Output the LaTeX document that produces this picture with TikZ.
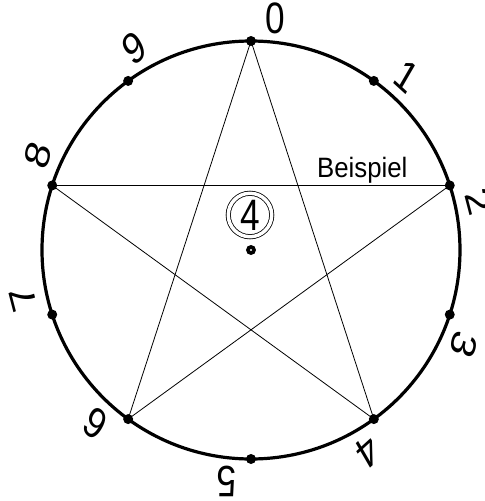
\documentclass[tikz,border=0pt]{standalone}
\usepackage{fontspec}
\setmainfont{Liberation Sans}
\usetikzlibrary{positioning}

\newcommand{\digfont}{\fontsize{33}{33}\selectfont}

\begin{document}
\begin{tikzpicture}[x=0.75pt, y=0.75pt,
    pt/.style={circle, fill, inner sep=0pt, minimum size=7.5pt},
    lab/.style={inner sep=0pt, xscale=0.8, font=\digfont},
    chord/.style={line width=0.6pt}]
  \useasboundingbox (-251,-251) rectangle (234,250);
  % outer circle
  \draw[line width=2.4pt] (0,0) circle (209);
  % points on the circle
  \node[pt] (p0) at (90:209) {};
  \node[pt] (p1) at (54:209) {};
  \node[pt] (p2) at (18:209) {};
  \node[pt] (p3) at (-18:209) {};
  \node[pt] (p4) at (-54:209) {};
  \node[pt] (p5) at (-90:209) {};
  \node[pt] (p6) at (-126:209) {};
  \node[pt] (p7) at (-162:209) {};
  \node[pt] (p8) at (162:209) {};
  \node[pt] (p9) at (126:209) {};
  % digits, turned with the circle
  \node[lab, rotate=0]    (l0) at (84:233) {0};
  \node[lab, rotate=-36]  (l1) at (48:233) {1};
  \node[lab, rotate=-72]  (l2) at (12:233) {2};
  \node[lab, rotate=-108] (l3) at (-24:233) {3};
  \node[lab, rotate=-144] (l4) at (-60:233) {4};
  \node[lab, rotate=-180] (l5) at (-96:233) {5};
  \node[lab, rotate=-216] (l6) at (-132:233) {6};
  \node[lab, rotate=-252] (l7) at (-168:233) {7};
  \node[lab, rotate=-288] (l8) at (156:233) {8};
  \node[lab, rotate=-324] (l9) at (120:233) {9};
  % star, step 4
  \draw[chord] (p0.center) -- (p4.center) -- (p8.center) -- (p2.center) -- (p6.center) -- cycle;
  \path (p8.center) -- (p2.center) node[pos=0.78, above=1.5pt, inner sep=0pt, xscale=0.92, font=\fontsize{21}{21}\selectfont] (ex) {Beispiel};
  % step in the middle
  \node[circle, draw, line width=0.6pt, double, double distance=2.6pt, minimum size=32.6pt, inner sep=0pt,
        font=\digfont] (st) at (-1,35) {\scalebox{0.8}[1]{4}};
  % centre
  \node[pt, minimum size=7.5pt] (c) at (0,0) {};
  \fill[white] (c.center) circle (1.1);
\end{tikzpicture}
\end{document}
